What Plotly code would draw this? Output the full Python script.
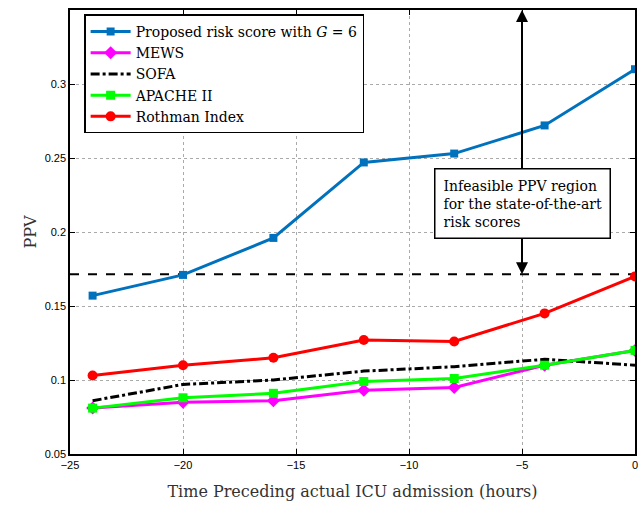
import plotly.graph_objects as go

hours = [-24, -20, -16, -12, -8, -4, 0]
proposed = [0.157, 0.171, 0.196, 0.247, 0.253, 0.272, 0.310]
mews = [0.081, 0.085, 0.086, 0.093, 0.095, 0.110, 0.120]
sofa = [0.086, 0.097, 0.100, 0.106, 0.109, 0.114, 0.110]
apache = [0.081, 0.088, 0.091, 0.099, 0.101, 0.110, 0.120]
rothman = [0.103, 0.110, 0.115, 0.127, 0.126, 0.145, 0.170]
threshold = 0.1715
arrow_x = -5
x_ticks = [-25, -20, -15, -10, -5, 0]
y_ticks = [0.05, 0.1, 0.15, 0.2, 0.25, 0.3]

serif = "DejaVu Serif, Liberation Serif, serif"
sans = "Liberation Sans, Arial, sans-serif"

fig = go.Figure()
fig.add_trace(go.Scatter(x=[-25, 0], y=[threshold, threshold], mode="lines",
                         line=dict(color="black", width=2, dash="dash"),
                         showlegend=False, hoverinfo="skip"))
fig.add_trace(go.Scatter(x=hours, y=proposed, mode="lines+markers",
                         name="Proposed risk score with <i>G</i> = 6",
                         line=dict(color="#0072BD", width=3),
                         marker=dict(symbol="square", size=8, color="#0072BD")))
fig.add_trace(go.Scatter(x=hours, y=mews, mode="lines+markers", name="MEWS",
                         line=dict(color="#FF00FF", width=3),
                         marker=dict(symbol="diamond", size=10, color="#FF00FF")))
fig.add_trace(go.Scatter(x=hours, y=sofa, mode="lines", name="SOFA",
                         line=dict(color="black", width=3, dash="dashdot")))
fig.add_trace(go.Scatter(x=hours, y=apache, mode="lines+markers", name="APACHE II",
                         line=dict(color="#00FF00", width=3),
                         marker=dict(symbol="square", size=9, color="#00FF00")))
fig.add_trace(go.Scatter(x=hours, y=rothman, mode="lines+markers", name="Rothman Index",
                         line=dict(color="#FF0000", width=3),
                         marker=dict(symbol="circle", size=10, color="#FF0000")))

# arrows
fig.add_annotation(x=arrow_x, y=0.35, ax=arrow_x, ay=0.22, xref="x", yref="y",
                   axref="x", ayref="y", showarrow=True, arrowhead=2, arrowsize=1.2,
                   arrowwidth=2, arrowcolor="black", text="")
fig.add_annotation(x=arrow_x, y=threshold, ax=arrow_x, ay=0.22, xref="x", yref="y",
                   axref="x", ayref="y", showarrow=True, arrowhead=2, arrowsize=1.2,
                   arrowwidth=2, arrowcolor="black", text="")
fig.add_annotation(x=arrow_x, y=0.2195, xref="x", yref="y", showarrow=False,
                   text="Infeasible PPV region<br>for the state-of-the-art<br>risk scores",
                   align="left", font=dict(family=serif, size=14, color="black"),
                   bgcolor="white", bordercolor="black", borderwidth=1.5, borderpad=8)

axis_common = dict(showline=True, linecolor="black", linewidth=1.5, mirror="ticks",
                   ticks="inside", ticklen=5, tickcolor="black",
                   showgrid=True, gridcolor="#AAAAAA", griddash="dot", gridwidth=1,
                   zeroline=False, tickfont=dict(family=sans, size=11, color="black"))

fig.update_layout(
    width=639, height=506,
    margin=dict(l=70, r=2, t=10, b=52),
    paper_bgcolor="white", plot_bgcolor="white",
    xaxis=dict(range=[-25, 0], tickvals=x_ticks, ticktext=["\u221225", "\u221220", "\u221215", "\u221210", "\u22125", "0"],
               title=dict(text="Time Preceding actual ICU admission (hours)",
                          font=dict(family=serif, size=16, color="#333"), standoff=16),
               **axis_common),
    yaxis=dict(range=[0.05, 0.35], tickvals=y_ticks, ticktext=["0.05", "0.1", "0.15", "0.2", "0.25", "0.3"],
               title=dict(text="PPV", font=dict(family=serif, size=16, color="#333"), standoff=4),
               **axis_common),
    legend=dict(x=0.025, y=0.99, xanchor="left", yanchor="top",
                bgcolor="white", bordercolor="black", borderwidth=1.5,
                font=dict(family=serif, size=14, color="black"),
                tracegroupgap=0, itemwidth=40),
    showlegend=True,
)

fig.write_html("out.html")
